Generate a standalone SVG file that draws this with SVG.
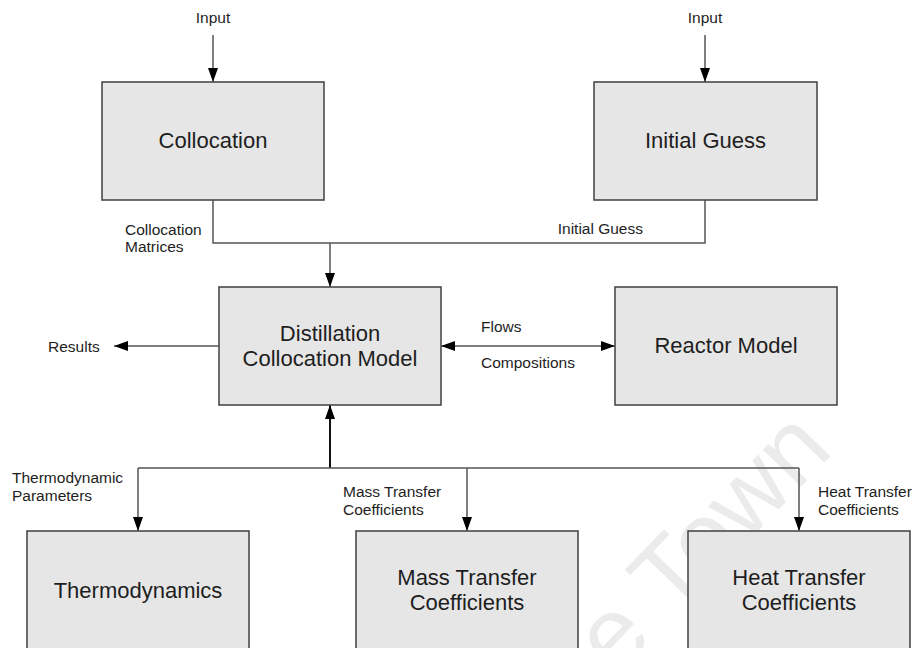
<svg xmlns="http://www.w3.org/2000/svg" width="918" height="648" viewBox="0 0 918 648">
  <style>
    .box { fill: #e6e6e6; stroke: #4a4a4a; stroke-width: 1.6; }
    .title { font-family: "Liberation Sans", Arial, sans-serif; font-size: 22px; fill: #1e1e1e; text-anchor: middle; }
    .label { font-family: "Liberation Sans", Arial, sans-serif; font-size: 15.5px; fill: #1e1e1e; }
    .wire { fill: none; stroke: #555; stroke-width: 1.5; }
    .wire-dark { fill: none; stroke: #111; stroke-width: 2; }
    .arrow { marker-end: url(#head); }
    .mark { font-family: "Liberation Sans", Arial, sans-serif; font-size: 100px; fill: #ebebeb; }
  </style>
  <defs>
    <marker id="head" markerUnits="userSpaceOnUse" markerWidth="14" markerHeight="10" refX="14" refY="5" orient="auto-start-reverse">
      <path d="M0,0 L14,5 L0,10 z" fill="#000"/>
    </marker>
  </defs>

  <rect width="918" height="648" fill="#fff"/>

  <!-- background watermark -->
  <text class="mark" transform="translate(616,678) rotate(-46)">e Town</text>

  <!-- connectors -->
  <g id="connectors">
    <path class="wire arrow" d="M213,35 V82"/>
    <path class="wire arrow" d="M705,35 V82"/>
    <path class="wire" d="M213,200 V243 H705 V200"/>
    <path class="wire arrow" d="M330,243 V287"/>
    <path class="wire arrow" d="M219,346 H114"/>
    <path class="wire" d="M441,346 H615" marker-start="url(#head)" marker-end="url(#head)"/>
    <path class="wire-dark arrow" d="M330,468 V405"/>
    <path class="wire" d="M138,468 H799"/>
    <path class="wire arrow" d="M138,468 V531"/>
    <path class="wire arrow" d="M467,468 V531"/>
    <path class="wire arrow" d="M799,468 V531"/>
  </g>

  <!-- connector labels -->
  <g id="connector-labels" class="label">
    <text x="213" y="23" text-anchor="middle">Input</text>
    <text x="705" y="23" text-anchor="middle">Input</text>
    <text x="125" y="235">Collocation</text>
    <text x="125" y="252">Matrices</text>
    <text x="643" y="234" text-anchor="end">Initial Guess</text>
    <text x="48" y="352">Results</text>
    <text x="481" y="332">Flows</text>
    <text x="481" y="368">Compositions</text>
    <text x="12" y="483">Thermodynamic</text>
    <text x="12" y="501">Parameters</text>
    <text x="343" y="497">Mass Transfer</text>
    <text x="343" y="515">Coefficients</text>
    <text x="818" y="497">Heat Transfer</text>
    <text x="818" y="515">Coefficients</text>
  </g>

  <!-- nodes -->
  <g id="collocation">
    <rect class="box" x="102" y="82" width="222" height="118"/>
    <text class="title" x="213" y="148">Collocation</text>
  </g>
  <g id="initial-guess">
    <rect class="box" x="594" y="82" width="223" height="118"/>
    <text class="title" x="705.5" y="148">Initial Guess</text>
  </g>
  <g id="distillation-model">
    <rect class="box" x="219" y="287" width="222" height="118"/>
    <text class="title" x="330" y="341">Distillation</text>
    <text class="title" x="330" y="366">Collocation Model</text>
  </g>
  <g id="reactor-model">
    <rect class="box" x="615" y="287" width="222" height="118"/>
    <text class="title" x="726" y="353">Reactor Model</text>
  </g>
  <g id="thermodynamics">
    <rect class="box" x="27" y="531" width="222" height="130"/>
    <text class="title" x="138" y="598">Thermodynamics</text>
  </g>
  <g id="mass-transfer">
    <rect class="box" x="356" y="531" width="222" height="130"/>
    <text class="title" x="467" y="585">Mass Transfer</text>
    <text class="title" x="467" y="610">Coefficients</text>
  </g>
  <g id="heat-transfer">
    <rect class="box" x="688" y="531" width="222" height="130"/>
    <text class="title" x="799" y="585">Heat Transfer</text>
    <text class="title" x="799" y="610">Coefficients</text>
  </g>
</svg>
